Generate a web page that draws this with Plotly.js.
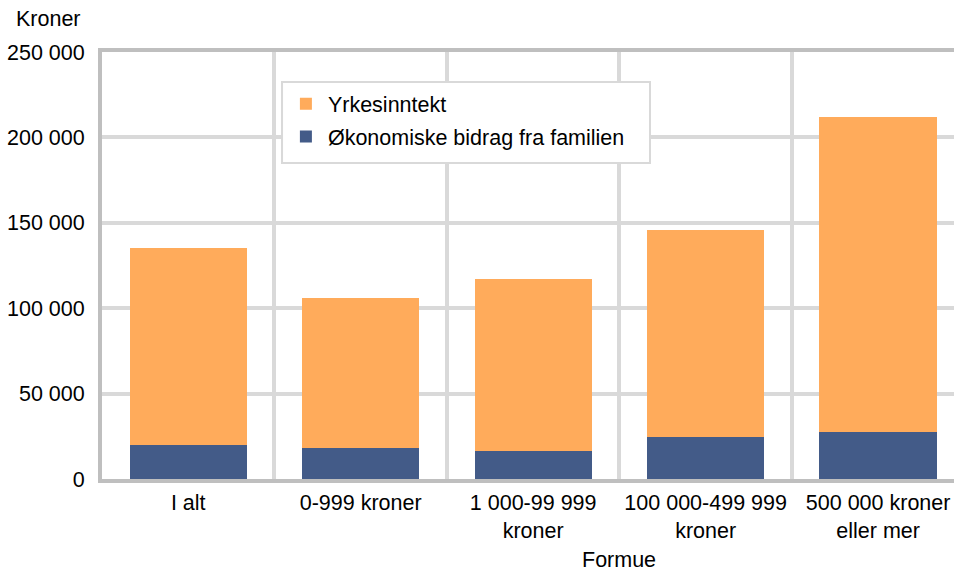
<!DOCTYPE html>
<html>
<head>
<meta charset="utf-8">
<script src="https://cdn.plot.ly/plotly-3.0.1.min.js"></script>
<style>html,body{margin:0;padding:0;overflow:hidden;background:#fff}#chart{width:954px;height:573px}</style>
</head>
<body>
<div id="chart"></div>
<script>
const categories = ["I alt", "0-999 kroner", "1 000-99 999<br>kroner", "100 000-499 999<br>kroner", "500 000 kroner<br>eller mer"];
const bidragFamilien = [20000, 18000, 16500, 24500, 27500];
const yrkesinntekt = [115000, 88000, 100500, 121500, 184500];
const yTickVals = [0, 50000, 100000, 150000, 200000, 250000];
const yTickText = ["0", "50 000", "100 000", "150 000", "200 000", "250 000"];

const font = {family: "Liberation Sans, Arial, sans-serif", size: 21.5, color: "#000"};

const traces = [
  {type: "bar", name: "Økonomiske bidrag fra familien", x: categories, y: bidragFamilien,
   marker: {color: "#435b88"}, legendgroup: "b", legendrank: 2, hoverinfo: "skip"},
  {type: "bar", name: "Yrkesinntekt", x: categories, y: yrkesinntekt,
   marker: {color: "#ffab5b"}, legendgroup: "a", legendrank: 1, hoverinfo: "skip"}
];

const layout = {
  width: 954, height: 573,
  margin: {l: 102, r: 0, t: 52, b: 94},
  paper_bgcolor: "#fff", plot_bgcolor: "#fff",
  font: font,
  barmode: "stack",
  bargap: 0.32,
  showlegend: true,
  legend: {
    x: 0.2135, y: 0.927, xanchor: "left", yanchor: "top",
    bgcolor: "rgba(0,0,0,0)", borderwidth: 0,
    font: font, traceorder: "grouped", tracegroupgap: 2,
    itemwidth: 34
  },
  shapes: [
    {type: "rect", xref: "paper", yref: "paper", x0: 0.2113, x1: 0.6432, y0: 0.740, y1: 0.9297,
     fillcolor: "#fff", line: {color: "#d9d9d9", width: 2}, layer: "above"}
  ],
  xaxis: {
    type: "category", range: [-0.5, 4.44],
    tickson: "boundaries", ticks: "", showgrid: true,
    gridcolor: "#d9d9d9", gridwidth: 4,
    showline: true, linecolor: "#bfbfbf", linewidth: 4, mirror: true,
    tickfont: font, ticklabelstandoff: 1, fixedrange: true
  },
  yaxis: {
    range: [0, 250000], tickvals: yTickVals, ticktext: yTickText,
    showgrid: true, gridcolor: "#d9d9d9", gridwidth: 4,
    zeroline: false,
    showline: true, linecolor: "#bfbfbf", linewidth: 4,
    ticks: "", ticklabelstandoff: 9, tickfont: font, fixedrange: true
  },
  annotations: [
    {text: "Kroner", xref: "paper", yref: "paper", x: -0.103, y: 1.078, xanchor: "left", yanchor: "middle", showarrow: false, font: font},
    {text: "Formue", xref: "paper", yref: "paper", x: 0.607, y: -0.19, xanchor: "center", yanchor: "middle", showarrow: false, font: font}
  ]
};

Plotly.newPlot("chart", traces, layout, {displayModeBar: false, staticPlot: true});
</script>
</body>
</html>
